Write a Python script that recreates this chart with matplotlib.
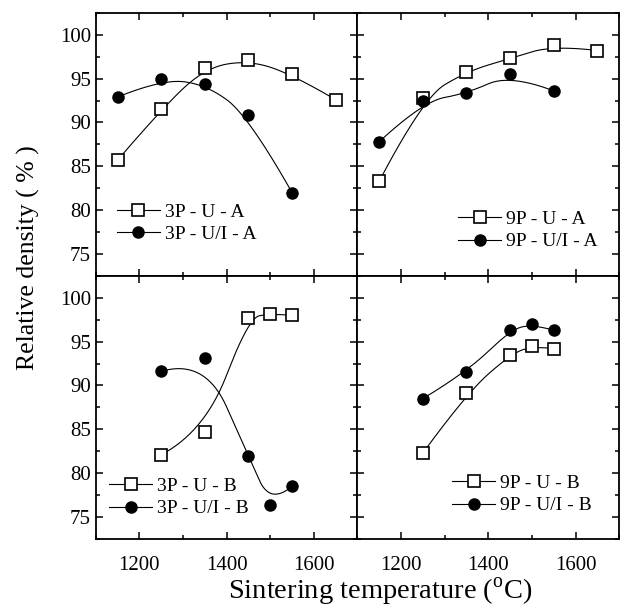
import numpy as np
import matplotlib
matplotlib.use("Agg")
import matplotlib.pyplot as plt
from matplotlib.ticker import MultipleLocator

plt.rcParams['font.family'] = ['Liberation Serif', 'DejaVu Serif']
plt.rcParams['mathtext.fontset'] = 'custom'
plt.rcParams['mathtext.rm'] = 'Liberation Serif'

# Data (sintering temperature in C, relative density in %)
temp_a = [1150, 1250, 1350, 1450, 1550, 1650]
temp_a_ui = [1150, 1250, 1350, 1450, 1550]
temp_b = [1250, 1350, 1450, 1500, 1550]

d_3p_u_a = [85.7, 91.5, 96.2, 97.1, 95.5, 92.6]
d_3p_ui_a = [92.9, 94.9, 94.4, 90.8, 82.0]
d_9p_u_a = [83.3, 92.8, 95.8, 97.3, 98.8, 98.2]
d_9p_ui_a = [87.8, 92.4, 93.3, 95.5, 93.6]

d_3p_u_b = [82.1, 84.7, 97.7, 98.2, 98.0]
d_3p_ui_b = [91.6, 93.1, 82.0, 76.4, 78.5]
d_9p_u_b = [82.3, 89.1, 93.5, 94.5, 94.2]
d_9p_ui_b = [88.5, 91.5, 96.3, 97.0, 96.3]


def bspline(xs, ys, deg=2, n=200):
    # clamped B-spline using the data points as control points
    pts = np.column_stack([xs, ys]).astype(float)
    m = len(pts)
    k = min(deg, m - 1)
    inner = np.linspace(0, 1, m - k + 1)[1:-1]
    knots = np.concatenate([np.zeros(k + 1), inner, np.ones(k + 1)])
    t = np.linspace(0, 1, n)
    t[-1] = 1 - 1e-10

    def basis(i, p, t):
        if p == 0:
            return np.where((knots[i] <= t) & (t < knots[i + 1]), 1.0, 0.0)
        out = np.zeros_like(t)
        d1 = knots[i + p] - knots[i]
        d2 = knots[i + p + 1] - knots[i + 1]
        if d1 > 0:
            out += (t - knots[i]) / d1 * basis(i, p - 1, t)
        if d2 > 0:
            out += (knots[i + p + 1] - t) / d2 * basis(i + 1, p - 1, t)
        return out

    B = np.array([basis(i, k, t) for i in range(m)])
    curve = B.T @ pts
    return curve[:, 0], curve[:, 1]


panels = [
    (temp_a, d_3p_u_a, temp_a_ui, d_3p_ui_a, "3P - U - A", "3P - U/I - A"),
    (temp_a, d_9p_u_a, temp_a_ui, d_9p_ui_a, "9P - U - A", "9P - U/I - A"),
    (temp_b, d_3p_u_b, temp_b, d_3p_ui_b, "3P - U - B", "3P - U/I - B"),
    (temp_b, d_9p_u_b, temp_b, d_9p_ui_b, "9P - U - B", "9P - U/I - B"),
]
legend_anchor = [(0.081, 0.124), (0.385, 0.097), (0.051, 0.082), (0.363, 0.093)]

fig, axes = plt.subplots(2, 2, figsize=(6.26, 6.11), dpi=100, sharex=True, sharey=True)
fig.subplots_adjust(left=0.153, right=0.989, top=0.979, bottom=0.118, wspace=0, hspace=0)

for ax, (x1, y1, x2, y2, l1, l2), anc in zip(axes.flat, panels, legend_anchor):
    cx, cy = bspline(x1, y1)
    ax.plot(cx, cy, color='black', lw=0.8)
    ax.plot(x1, y1, ls='none', marker='s', ms=8, mfc='white', mec='black', mew=1.2)
    cx, cy = bspline(x2, y2)
    ax.plot(cx, cy, color='black', lw=0.8)
    ax.plot(x2, y2, ls='none', marker='o', ms=8, mfc='black', mec='black')

    h1 = ax.plot([], [], color='black', lw=0.8, marker='s', ms=8, mfc='white', mec='black', mew=1.2)[0]
    h2 = ax.plot([], [], color='black', lw=0.8, marker='o', ms=8, mfc='black', mec='black')[0]
    ax.legend([h1, h2], [l1, l2], loc='lower left', bbox_to_anchor=anc, frameon=False,
              fontsize=14, handlelength=2.2, handletextpad=0.26, borderpad=0,
              borderaxespad=0, labelspacing=0.25)

    ax.set_xlim(1100, 1700)
    ax.set_ylim(72.5, 102.5)
    ax.xaxis.set_major_locator(MultipleLocator(200))
    ax.xaxis.set_minor_locator(MultipleLocator(100))
    ax.yaxis.set_major_locator(MultipleLocator(5))
    ax.yaxis.set_minor_locator(MultipleLocator(2.5))
    ax.tick_params(which='both', direction='in', top=True, right=True, width=1.1, labelsize=15)
    ax.tick_params(which='major', length=5)
    ax.tick_params(which='minor', length=3)
    ax.tick_params(axis='x', which='both', pad=12)
    for s in ax.spines.values():
        s.set_linewidth(1.3)

fig.text(0.045, 0.578, "Relative density ( % )", rotation=90, ha='center', va='center', fontsize=18.5)
fig.text(0.607, 0.031, r"Sintering temperature ($^{\rm o}$C)", ha='center', va='center', fontsize=20.5)

fig.savefig("out.png", dpi=100)
